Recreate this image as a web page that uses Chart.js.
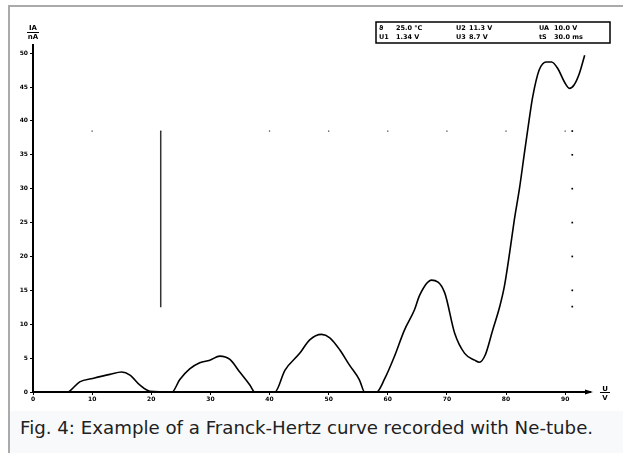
<!DOCTYPE html>
<html>
<head>
<meta charset="utf-8">
<script src="https://cdn.jsdelivr.net/npm/chart.js@4/dist/chart.umd.min.js"></script>
<style>
    body { margin: 0; background: #fff; width: 623px; height: 453px; overflow: hidden; position: relative; font-family: "DejaVu Sans", sans-serif; }
    #frame { position: absolute; left: 8px; top: 5px; width: 620px; height: 460px; border-left: 2px solid #aaa; border-top: 2px solid #aaa; background: #f8f9fa; }
    #plot { position: absolute; left: 10px; top: 7px; background: #fff; }
    #caption { position: absolute; left: 20px; top: 417px; font-size: 18.2px; color: #202122; white-space: nowrap; }
</style>
</head>
<body>
<div id="frame"></div>
<canvas id="plot" width="613" height="404"></canvas>
<div id="caption">Fig. 4: Example of a Franck-Hertz curve recorded with Ne-tube.</div>

<script>
// ======================= Data =======================
// accelerating voltage U in V, anode current I_A in nA
const voltage = [0, 5.9, 6.3, 7.9, 10.1, 13.0, 15.0, 16.4, 18.1, 19.8, 23.5, 24.8, 26.5, 28.2, 29.9, 31.6, 33.3,
    35.0, 36.7, 37.5, 40.9, 42.6, 45.1, 46.8, 48.8, 50.2, 51.9, 53.5, 55.2, 56.1, 58.1, 59.5, 61.1, 62.8,
    64.5, 65.4, 67.4, 69.6, 71.3, 73.0, 74.7, 75.5, 76.5, 77.7, 78.9, 79.7, 80.6, 81.4, 82.3, 83.1, 83.9,
    84.5, 85.6, 86.8, 87.7, 88.7, 89.9, 90.7, 91.5, 92.4, 93.3];
const current = [0, 0, 0.2, 1.5, 2.0, 2.6, 2.95, 2.5, 1.0, 0.1, 0, 1.8, 3.4, 4.3, 4.7, 5.3, 4.8,
    2.9, 1.0, 0, 0, 3.2, 5.7, 7.7, 8.5, 8.0, 6.2, 4.0, 1.8, 0, 0, 2.0, 5.2, 9.1,
    12.1, 14.3, 16.5, 14.7, 8.7, 5.7, 4.7, 4.4, 5.5, 9.0, 12.5, 15.5, 20.5, 25.4, 30.2, 35.2, 40.1,
    43.5, 47.5, 48.7, 48.7, 47.8, 45.7, 44.8, 45.3, 47.0, 49.7];

const xTickValues = [0, 10, 20, 30, 40, 50, 60, 70, 80, 90];
const yTickValues = [0, 5, 10, 15, 20, 25, 30, 35, 40, 45, 50];

// cursor marks of the recorder
const cursorU = 21.6;
const cursorI = [38.5, 12.5];
const levelDotsU = [10, 21.6, 40, 50, 60, 70, 80, 90];
const levelI = 38.5;
const edgeU = 91.2;
const edgeDotsI = [38.5, 35, 30, 25, 20, 15, 12.6];

// measurement parameters shown in the box
const paramLabels = [["ϑ", "U2", "UA"], ["U1", "U3", "tS"]];
const paramValues = [["25.0 °C", "11.3 V", "10.0 V"], ["1.34 V", "8.7 V", "30.0 ms"]];

// ======================= Decorations =======================
const decorations = {
    id: "decorations",
    afterDraw(chart) {
        const ctx = chart.ctx;
        const y = chart.scales.y;
        const left = chart.chartArea.left, right = chart.chartArea.right, bottom = y.getPixelForValue(0);
        ctx.save();
        ctx.fillStyle = "#000";
        ctx.strokeStyle = "#000";

        // arrow head on the U axis
        ctx.beginPath();
        ctx.moveTo(right + 3, bottom);
        ctx.lineTo(right - 5, bottom - 2.5);
        ctx.lineTo(right - 5, bottom + 2.5);
        ctx.closePath();
        ctx.fill();

        // axis titles as fractions
        ctx.font = "bold 7px 'DejaVu Sans'";
        ctx.textAlign = "center";
        ctx.textBaseline = "alphabetic";
        ctx.lineWidth = 1;
        ctx.fillText("IA", left, 23);
        ctx.beginPath(); ctx.moveTo(left - 6, 25.5); ctx.lineTo(left + 6, 25.5); ctx.stroke();
        ctx.fillText("nA", left, 32);

        const ux = right + 15;
        ctx.fillText("U", ux, bottom - 1);
        ctx.beginPath(); ctx.moveTo(ux - 5, bottom + 0.5); ctx.lineTo(ux + 5, bottom + 0.5); ctx.stroke();
        ctx.fillText("V", ux, bottom + 8);

        // parameter box
        const bx = 366, by = 15, bw = 234, bh = 21;
        ctx.lineWidth = 1.5;
        ctx.strokeRect(bx, by, bw, bh);
        ctx.textAlign = "left";
        ctx.font = "bold 6.5px 'DejaVu Sans'";
        const colX = [[bx + 3, bx + 20], [bx + 80, bx + 93], [bx + 163, bx + 178]];
        for (let r = 0; r < 2; r++) {
            for (let c = 0; c < 3; c++) {
                ctx.fillText(paramLabels[r][c], colX[c][0], by + 8 + r * 9);
                ctx.fillText(paramValues[r][c], colX[c][1], by + 8 + r * 9);
            }
        }
        ctx.restore();
    }
};

// ======================= Chart =======================
new Chart(document.getElementById("plot"), {
    type: "scatter",
    data: {
        datasets: [{
            label: "I_A",
            data: voltage.map((u, i) => ({ x: u, y: current[i] })),
            showLine: true,
            borderColor: "#000",
            borderWidth: 1.6,
            pointRadius: 0,
            cubicInterpolationMode: "monotone"
        }, {
            label: "cursor",
            data: cursorI.map(v => ({ x: cursorU, y: v })),
            showLine: true,
            borderColor: "#333",
            borderWidth: 1.5,
            pointRadius: 0
        }, {
            label: "level",
            data: levelDotsU.map(u => ({ x: u, y: levelI })),
            showLine: false,
            pointStyle: "rect",
            pointRadius: 0.9,
            backgroundColor: "#444",
            borderWidth: 0
        }, {
            label: "edge",
            data: edgeDotsI.map(v => ({ x: edgeU, y: v })),
            showLine: false,
            pointStyle: "rect",
            pointRadius: 1.2,
            backgroundColor: "#000",
            borderWidth: 0
        }]
    },
    options: {
        responsive: false,
        animation: false,
        devicePixelRatio: 1,
        layout: { padding: { left: 3, top: 38, right: 33, bottom: 0 } },
        plugins: { legend: { display: false }, tooltip: { enabled: false } },
        scales: {
            x: {
                type: "linear",
                min: 0,
                max: 94.2,
                afterBuildTicks: scale => { scale.ticks = xTickValues.map(v => ({ value: v })); },
                afterFit: scale => { scale.height = 19; },
                ticks: { color: "#000", font: { family: "DejaVu Sans", size: 6, weight: "bold" }, padding: 1, maxRotation: 0 },
                grid: { drawOnChartArea: false, tickLength: 3, color: "#000" },
                border: { color: "#000", width: 2 }
            },
            y: {
                type: "linear",
                min: 0,
                max: 51.2,
                afterBuildTicks: scale => { scale.ticks = yTickValues.map(v => ({ value: v })); },
                afterFit: scale => { scale.width = 20; },
                ticks: { color: "#000", font: { family: "DejaVu Sans", size: 6, weight: "bold" }, padding: 2 },
                grid: { drawOnChartArea: false, tickLength: 3, color: "#000" },
                border: { color: "#000", width: 2 }
            }
        }
    },
    plugins: [decorations]
});
</script>
</body>
</html>
